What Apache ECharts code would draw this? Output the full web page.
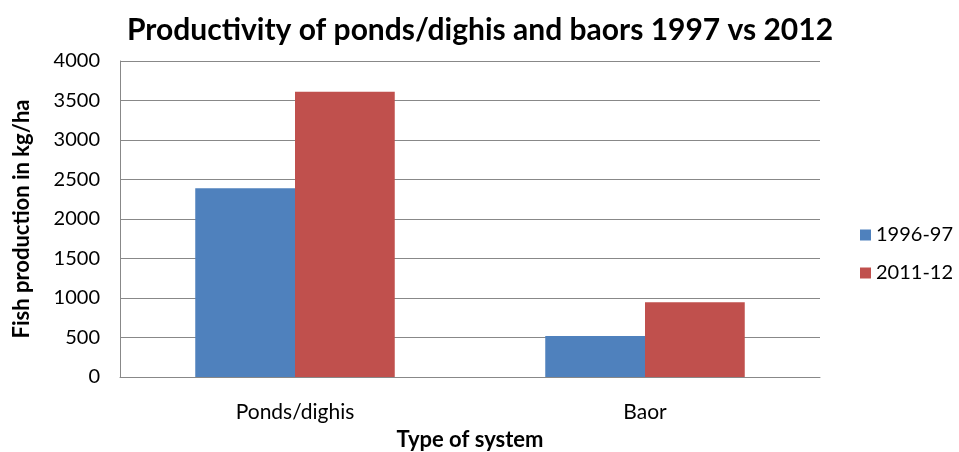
<!DOCTYPE html>
<html><head><meta charset="utf-8">
<script src="https://cdn.jsdelivr.net/npm/echarts@6/dist/echarts.min.js"></script>
<style>html,body{margin:0;padding:0;background:#fff}#c{width:959px;height:452px}</style>
</head><body><div id="c"></div>
<script>
const categories = ["Ponds/dighis", "Baor"];
const series1996 = [2390, 520];
const series2011 = [3610, 945];
const seriesNames = ["1996-97", "2011-12"];
const yTicks = [0, 500, 1000, 1500, 2000, 2500, 3000, 3500, 4000];

const FONT = "Lato";
const chart = echarts.init(document.getElementById('c'), null, {renderer: 'canvas'});
chart.setOption({
  animation: false,
  backgroundColor: '#fff',
  title: {
    text: 'Productivity of ponds/dighis and baors 1997 vs 2012',
    left: 475, top: 10, textAlign: 'center',
    textStyle: {fontFamily: FONT, fontWeight: 'bold', fontSize: 30, color: '#000'}
  },
  legend: {
    orient: 'vertical', left: 855, top: 220, itemWidth: 11, itemHeight: 11, itemGap: 18,
    icon: 'rect',
    textStyle: {fontFamily: FONT, fontSize: 20, color: '#000'},
    data: seriesNames
  },
  grid: {left: 120, right: 139, top: 61, bottom: 75, containLabel: false, outerBoundsMode: 'none'},
  xAxis: {
    type: 'category', data: categories,
    name: 'Type of system', nameLocation: 'middle', nameGap: 52,
    nameTextStyle: {fontFamily: FONT, fontWeight: 'bold', fontSize: 22, color: '#000'},
    axisLine: {lineStyle: {color: '#888', width: 1}},
    axisTick: {show: false},
    axisLabel: {fontFamily: FONT, fontSize: 21, color: '#000', margin: 25}
  },
  yAxis: {
    type: 'value', min: yTicks[0], max: yTicks[yTicks.length - 1], interval: 500,
    name: 'Fish production in kg/ha', nameLocation: 'middle', nameGap: 87,
    nameTextStyle: {fontFamily: FONT, fontWeight: 'bold', fontSize: 22, color: '#000'},
    axisLine: {show: true, lineStyle: {color: '#888', width: 1}},
    axisTick: {show: false},
    splitLine: {lineStyle: {color: '#888', width: 1}},
    axisLabel: {fontFamily: FONT, fontSize: 20, color: '#000', margin: 20,
      formatter: v => String(v)}
  },
  series: [
    {name: seriesNames[0], type: 'bar', data: series1996, barGap: '0%', barCategoryGap: '43%',
     itemStyle: {color: '#4F81BD'}},
    {name: seriesNames[1], type: 'bar', data: series2011, barGap: '0%', barCategoryGap: '43%',
     itemStyle: {color: '#C0504D'}}
  ]
});
</script></body></html>
